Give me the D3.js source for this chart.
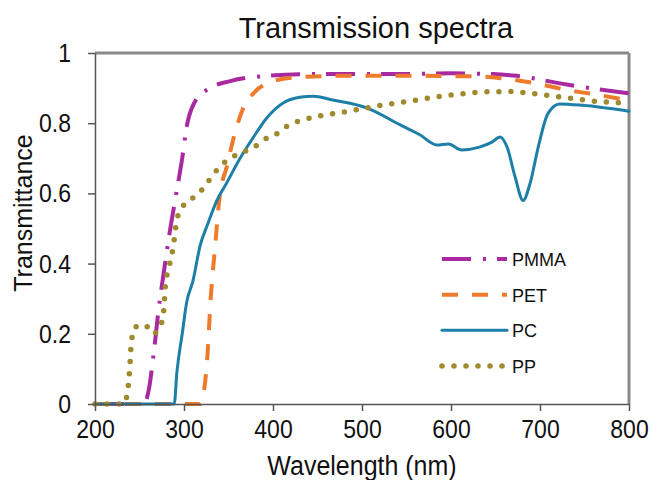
<html>
<head>
    <title>Transmission spectra</title>
    <script src="https://d3js.org/d3.v7.min.js"></script>
    <style>
        body { margin: 0; background: #fff; }
        text { font-family: "Liberation Sans", Arial, sans-serif; fill: #111; }
        .stretch { transform-box: fill-box; transform-origin: center; transform: scaleY(1.14); }
        .stretch-s { transform-box: fill-box; transform-origin: center; transform: scaleY(1.07); }
    </style>
</head>
<body>
    <svg id="chart" width="651" height="480"></svg>

    <script>
    // wavelength (nm) / transmittance
    const pmmaWl = [200, 255, 260, 266, 271, 277, 284, 292, 298, 303, 312, 329, 352, 389, 445, 500, 550, 600, 647, 674, 730, 800];
    const pmmaT  = [0, 0, 0.035, 0.145, 0.26, 0.37, 0.49, 0.61, 0.70, 0.79, 0.86, 0.90, 0.92, 0.934, 0.94, 0.94, 0.94, 0.942, 0.94, 0.935, 0.91, 0.885];

    const petWl = [200, 318, 322, 326, 330, 335, 340, 348, 357, 366, 380, 397, 422, 480, 550, 632, 663, 692, 730, 767, 800];
    const petT  = [0, 0, 0.03, 0.125, 0.30, 0.45, 0.59, 0.675, 0.77, 0.84, 0.89, 0.917, 0.93, 0.935, 0.935, 0.933, 0.926, 0.915, 0.895, 0.88, 0.865];

    const pcWl = [200, 289, 292, 298, 303, 310, 318, 327, 337, 348, 363, 378, 393, 411, 430, 445, 467, 506, 543, 565, 584, 597, 612, 632, 646, 655, 663, 672, 681, 689, 698, 709, 722, 748, 800];
    const pcT  = [0, 0, 0.09, 0.20, 0.29, 0.35, 0.45, 0.515, 0.58, 0.63, 0.70, 0.76, 0.815, 0.857, 0.874, 0.877, 0.866, 0.843, 0.795, 0.767, 0.738, 0.741, 0.724, 0.732, 0.746, 0.761, 0.732, 0.647, 0.58, 0.63, 0.732, 0.828, 0.855, 0.851, 0.834];

    const ppWl = [200, 232, 236, 239, 241, 246, 256, 265, 273, 277, 279, 281, 285, 288, 290, 292, 298, 309, 320, 329, 338, 352, 363, 378, 389, 402, 415, 442, 458, 487, 517, 546, 576, 607, 636, 666, 697, 726, 756, 800];
    const ppT  = [0, 0, 0.025, 0.10, 0.18, 0.22, 0.225, 0.20, 0.22, 0.26, 0.335, 0.37, 0.41, 0.45, 0.49, 0.525, 0.56, 0.585, 0.61, 0.64, 0.67, 0.70, 0.715, 0.73, 0.752, 0.766, 0.79, 0.815, 0.823, 0.835, 0.849, 0.86, 0.872, 0.882, 0.889, 0.89, 0.883, 0.874, 0.864, 0.857];

    const xTicks = [200, 300, 400, 500, 600, 700, 800];
    const yTicks = [0, 0.2, 0.4, 0.6, 0.8, 1];

    const seriesNames = ["PMMA", "PET", "PC", "PP"];
    const seriesColors = ["#a92aa0", "#ee7a2c", "#1c7fa8", "#a08a2e"];

    const series = [
        { name: "PMMA", wl: pmmaWl, t: pmmaT, width: 4, dash: "29 12 3 11", cap: "butt" },
        { name: "PET", wl: petWl, t: petT, width: 4, dash: "16 14", cap: "butt" },
        { name: "PC", wl: pcWl, t: pcT, width: 3, dash: null, cap: "round" },
        { name: "PP", wl: ppWl, t: ppT, width: 5.5, dash: "0 12", cap: "round" }
    ];

    const svg = d3.select('#chart');
    const margin = { left: 95, right: 22, top: 53, bottom: 76 };
    const W = 651, H = 480;

    const x = d3.scaleLinear().domain([200, 800]).range([margin.left, W - margin.right]);
    const y = d3.scaleLinear().domain([0, 1]).range([H - margin.bottom, margin.top]);

    // frame (top and right lighter)
    svg.append('line')
        .attr('x1', x(200)).attr('x2', x(800)).attr('y1', y(1)).attr('y2', y(1))
        .attr('stroke', '#8a8a8a').attr('stroke-width', 3);
    svg.append('line')
        .attr('x1', x(800)).attr('x2', x(800)).attr('y1', y(1)).attr('y2', y(0))
        .attr('stroke', '#8a8a8a').attr('stroke-width', 3);

    const line = d3.line().curve(d3.curveMonotoneX);

    const g = svg.append('g');
    series.forEach((s, i) => {
        const pts = s.wl.map((w, j) => [x(w), y(s.t[j])]);
        g.append('path')
            .attr('d', line(pts))
            .attr('fill', 'none')
            .attr('stroke', seriesColors[i])
            .attr('stroke-width', s.width)
            .attr('stroke-linecap', s.cap)
            .attr('stroke-linejoin', 'round')
            .attr('stroke-dasharray', s.dash);
    });

    // axes
    const xAxis = svg.append('g')
        .attr('transform', `translate(0, ${y(0)})`)
        .call(d3.axisBottom(x).tickValues(xTicks).tickSize(7).tickSizeOuter(0).tickPadding(10));
    const yAxis = svg.append('g')
        .attr('transform', `translate(${x(200)}, 0)`)
        .call(d3.axisLeft(y).tickValues(yTicks).tickSize(7).tickSizeOuter(0).tickPadding(17)
            .tickFormat(d => d === 0 || d === 1 ? d : d3.format('.1f')(d)));

    [xAxis, yAxis].forEach(a => {
        a.select('.domain').attr('stroke', '#555').attr('stroke-width', 1.5);
        a.selectAll('.tick line').attr('stroke', '#555').attr('stroke-width', 1.5);
        a.selectAll('.tick text').style('font-size', '23px').attr('fill', '#111')
            .attr('class', 'stretch');
    });
    xAxis.selectAll('.tick text').attr('dy', '0.71em');

    // titles
    svg.append('text')
        .attr('x', 376).attr('y', 38)
        .attr('text-anchor', 'middle')
        .style('font-size', '29px')
        .text('Transmission spectra');

    svg.append('text')
        .attr('x', 362).attr('y', 474)
        .attr('text-anchor', 'middle')
        .attr('class', 'stretch-s')
        .style('font-size', '25px')
        .text('Wavelength (nm)');

    svg.append('text')
        .attr('transform', 'translate(32, 213) rotate(-90)')
        .attr('text-anchor', 'middle')
        .style('font-size', '25px')
        .text('Transmittance');

    // legend
    const legendY = d3.scalePoint().domain(seriesNames).range([259, 366]);
    const legend = svg.selectAll('.legend')
        .data(series)
        .enter()
        .append('g')
        .attr('class', 'legend')
        .attr('transform', d => `translate(442, ${legendY(d.name)})`);

    legend.append('line')
        .attr('x1', 0).attr('x2', 65)
        .attr('stroke', (d, i) => seriesColors[i])
        .attr('stroke-width', d => d.width)
        .attr('stroke-linecap', d => d.cap)
        .attr('stroke-dasharray', d => d.dash);

    legend.append('text')
        .attr('x', 70).attr('y', 7)
        .style('font-size', '18px')
        .text(d => d.name);
    </script>
</body>
</html>
